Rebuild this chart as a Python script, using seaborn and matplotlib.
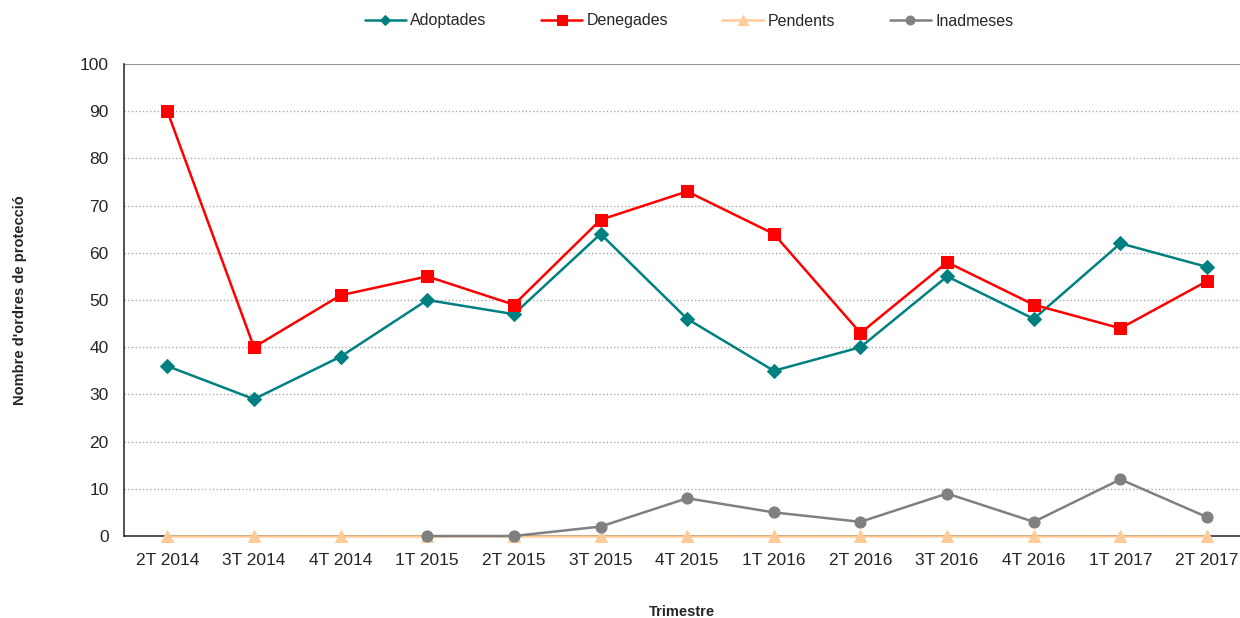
import numpy as np
import pandas as pd
import matplotlib
matplotlib.use('Agg')
import matplotlib.pyplot as plt
import seaborn as sns

# Dades
trimestres = ['2T 2014', '3T 2014', '4T 2014', '1T 2015', '2T 2015', '3T 2015', '4T 2015',
              '1T 2016', '2T 2016', '3T 2016', '4T 2016', '1T 2017', '2T 2017']
adoptades = [36, 29, 38, 50, 47, 64, 46, 35, 40, 55, 46, 62, 57]
denegades = [90, 40, 51, 55, 49, 67, 73, 64, 43, 58, 49, 44, 54]
pendents = [0, 0, 0, 0, 0, 0, 0, 0, 0, 0, 0, 0, 0]
inadmeses = [np.nan, np.nan, np.nan, 0, 0, 2, 8, 5, 3, 9, 3, 12, 4]

series = [
    ('Adoptades', adoptades, '#008080', 'D', 7),
    ('Denegades', denegades, '#FF0000', 's', 9),
    ('Pendents', pendents, '#FFCC99', '^', 9),
    ('Inadmeses', inadmeses, '#808080', 'o', 8),
]

sns.set_style('white')
plt.rcParams['font.family'] = ['Liberation Sans', 'DejaVu Sans']

fig = plt.figure(figsize=(12.4, 6.18), dpi=100)
ax = fig.add_axes([124 / 1240, 1 - 536 / 618, 1 - 124 / 1240, (536 - 64) / 618])

x = np.arange(len(trimestres))
for nom, valors, color, marker, ms in series:
    sns.lineplot(x=x, y=valors, ax=ax, color=color, marker=marker, markersize=ms,
                 markeredgecolor=color, linewidth=1.8, label=nom, clip_on=False, zorder=3)

ax.set_ylim(0, 100)
ax.set_yticks(range(0, 101, 10))
ax.set_xlim(-0.5, 12.38)
ax.set_xticks(x)
ax.set_xticklabels(trimestres)
ax.set_xticks(np.arange(-0.5, 12.5, 1), minor=True)
ax.tick_params(axis='x', which='major', length=0, pad=12, labelsize=12.5)
ax.tick_params(axis='x', which='minor', direction='out', length=5, color='#333333')
ax.tick_params(axis='y', direction='out', length=5, color='#333333', labelsize=12.5, pad=6)
ax.yaxis.grid(True, linestyle=':', color='#aaaaaa', linewidth=1)
ax.set_axisbelow(True)

for s in ['top', 'right']:
    ax.spines[s].set_visible(False)
ax.spines['left'].set_color('#333333')
ax.spines['bottom'].set_color('#333333')
ax.spines['left'].set_linewidth(1.2)
ax.spines['bottom'].set_linewidth(1.2)
ax.axhline(100, color='#999999', linewidth=1.5)

ax.set_xlabel('Trimestre', fontsize=10.5, fontweight='bold', labelpad=27)
ax.set_ylabel("Nombre d'ordres de protecció", fontsize=10.5, fontweight='bold', labelpad=38)

handles, labels = ax.get_legend_handles_labels()
ax.get_legend().remove()
fig.legend(handles, labels, loc='center', bbox_to_anchor=(689 / 1240, 1 - 21 / 618), ncol=4,
           frameon=False, fontsize=11.5, handlelength=2.6, columnspacing=3.4, markerscale=0.8,
           handletextpad=0.25, borderpad=0, borderaxespad=0)

fig.savefig('out.png', dpi=100)
